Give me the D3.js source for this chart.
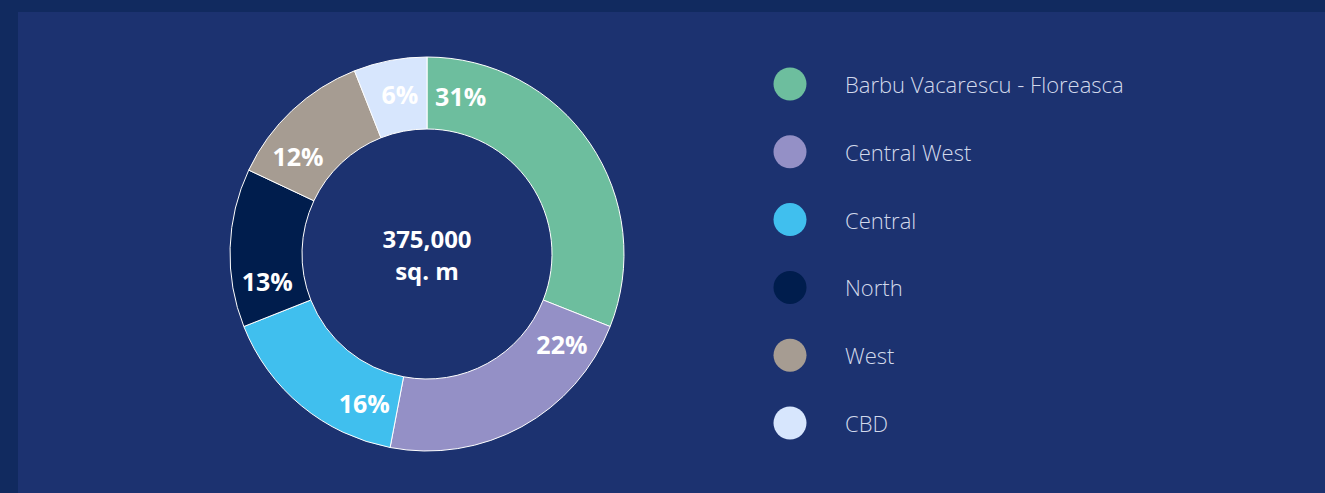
<!DOCTYPE html>
<html><head><meta charset="utf-8">
<script src="https://cdn.jsdelivr.net/npm/d3@7"></script>
<style>
html,body{margin:0;padding:0;background:#112a5f;}
svg{display:block;}
</style></head>
<body>
<svg id="chart" width="1325" height="493"></svg>
<script>
const categories = ["Barbu Vacarescu - Floreasca","Central West","Central","North","West","CBD"];
const values = [31,22,16,13,12,6];
const colors = ["#6dbe9e","#9490c6","#40bfee","#001d4d","#a69c92","#d7e6fd"];
const centerLines = ["375,000","sq. m"];

const svg = d3.select("#chart");
svg.append("rect").attr("x",18).attr("y",12).attr("width",1325-18).attr("height",493-12).attr("fill","#1c3270");

const cx = 427, cy = 254, rOuter = 197, rInner = 125;
const g = svg.append("g").attr("transform",`translate(${cx},${cy})`);
const pie = d3.pie().value(d=>d).sort(null);
const arcs = pie(values);
const arc = d3.arc().innerRadius(rInner).outerRadius(rOuter);
g.selectAll("path.slice").data(arcs).join("path")
  .attr("class","slice")
  .attr("d",arc)
  .attr("fill",(d,i)=>colors[i])
  .attr("stroke","#ffffff").attr("stroke-width",1);

const labelR = 162, labelOffset = 12*Math.PI/180;
g.selectAll("text.lbl").data(arcs).join("text")
  .attr("class","lbl")
  .attr("x",d=>labelR*Math.sin(d.startAngle+labelOffset))
  .attr("y",d=>-labelR*Math.cos(d.startAngle+labelOffset))
  .attr("text-anchor","middle").attr("dominant-baseline","central")
  .attr("fill","#ffffff").attr("font-family","Open Sans").attr("font-weight",700).attr("font-size",25)
  .text(d=>d.data+"%");

g.selectAll("text.ctr").data(centerLines).join("text")
  .attr("class","ctr")
  .attr("x",0).attr("y",(d,i)=>-16+i*32)
  .attr("text-anchor","middle").attr("dominant-baseline","central")
  .attr("fill","#ffffff").attr("font-family","Open Sans").attr("font-weight",700).attr("font-size",24)
  .text(d=>d);

const ly = d3.scalePoint().domain(categories).range([84,423]);
const leg = svg.append("g");
leg.selectAll("circle").data(categories).join("circle")
  .attr("cx",790).attr("cy",d=>ly(d)).attr("r",16.5).attr("fill",(d,i)=>colors[i]);
leg.selectAll("text").data(categories).join("text")
  .attr("x",845).attr("y",d=>ly(d)).attr("dominant-baseline","central")
  .attr("fill","#d2d9eb").attr("font-family","Open Sans").attr("font-weight",300).attr("font-size",22)
  .text(d=>d);
</script>
</body></html>
